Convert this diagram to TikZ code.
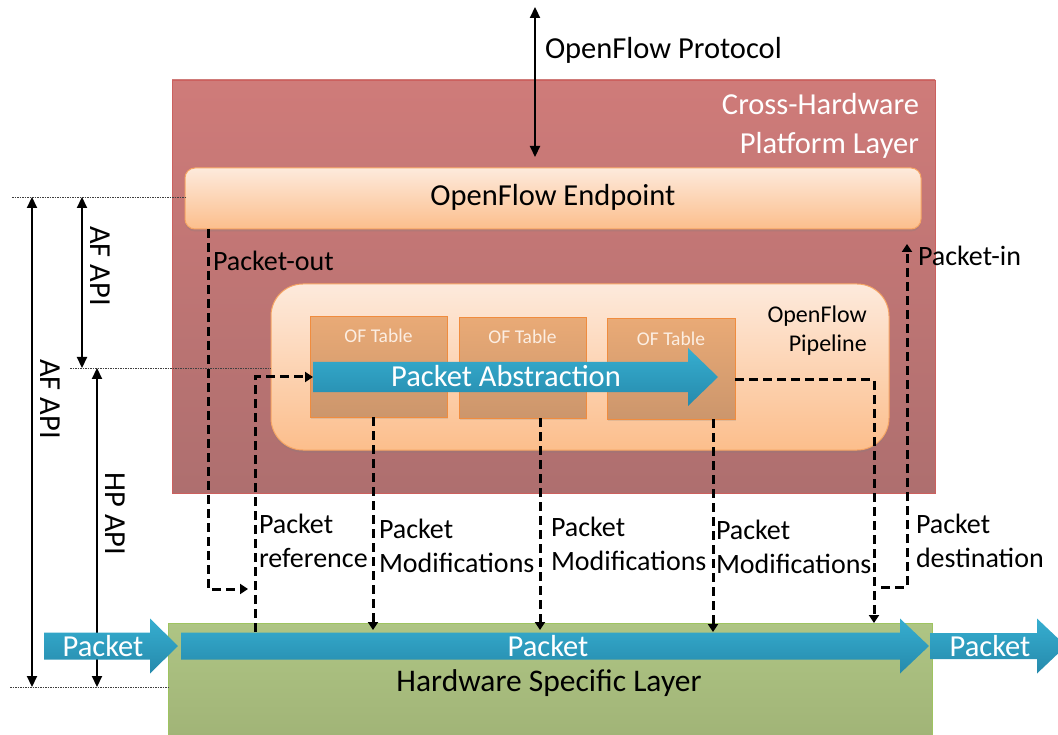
\documentclass[tikz,border=0pt]{standalone}
\usepackage{fontspec}
\setmainfont{Carlito}
\usetikzlibrary{arrows.meta,shadows}

\definecolor{layerTop}{RGB}{207,123,121}
\definecolor{layerBot}{RGB}{174,111,111}
\definecolor{layerLine}{RGB}{204,96,94}
\definecolor{peachTop}{RGB}{253,234,220}
\definecolor{peachBot}{RGB}{252,190,140}
\definecolor{peachLine}{RGB}{246,165,100}
\definecolor{tabTop}{RGB}{233,170,118}
\definecolor{tabBot}{RGB}{204,150,108}
\definecolor{tabLine}{RGB}{240,140,62}
\definecolor{tabText}{RGB}{252,238,226}
\definecolor{pktTop}{RGB}{54,174,208}
\definecolor{pktBot}{RGB}{38,138,172}
\definecolor{hwTop}{RGB}{174,197,132}
\definecolor{hwBot}{RGB}{158,176,116}
\definecolor{hwLine}{RGB}{158,196,96}

% block arrow: style, tail x, head base x, tip x, centre y, half shaft, half head
\newcommand\fatarrow[7]{%
  \path[#1] (#2,#5-#6) -- (#3,#5-#6) -- (#3,#5-#7) -- (#4,#5)
    -- (#3,#5+#7) -- (#3,#5+#6) -- (#2,#5+#6) -- cycle;}

\tikzset{
  box/.style={anchor=north west, inner sep=0pt, outer sep=0pt},
  layer/.style={box, draw=layerLine, line width=0.8pt, top color=layerTop, bottom color=layerBot},
  hwlayer/.style={box, draw=hwLine, line width=0.8pt, top color=hwTop, bottom color=hwBot},
  peach/.style={box, draw=peachLine, line width=1pt, top color=peachTop, bottom color=peachBot,
    rounded corners=#1, drop shadow={opacity=0.25, shadow xshift=0pt, shadow yshift=-2.5pt}},
  oftable/.style={box, draw=tabLine, line width=1pt, top color=tabTop, bottom color=tabBot,
    drop shadow={opacity=0.2, shadow xshift=1pt, shadow yshift=-2pt}},
  pktfill/.style={top color=pktTop, bottom color=pktBot},
  txt/.style={inner sep=0pt, outer sep=0pt, align=left, font=\fontsize{28}{33.5}\selectfont},
  bigtxt/.style={inner sep=0pt, outer sep=0pt, font=\fontsize{30.5}{39}\selectfont},
  tabtxt/.style={inner sep=0pt, outer sep=0pt, text=tabText, font=\fontsize{19.5}{22}\selectfont},
  flow/.style={line width=3pt, dash pattern=on 9pt off 5pt, -{Triangle[length=8pt,width=10pt]}},
  dimline/.style={line width=2.2pt, {Triangle[length=11pt,width=10pt]}-{Triangle[length=11pt,width=10pt]}},
  guide/.style={line width=0.6pt, dash pattern=on 1.5pt off 1pt, black!75},
}

\begin{document}
\begin{tikzpicture}[x=1pt,y=-1pt]
\useasboundingbox (0,0) rectangle (1058,735);

% ---- layers ----
\node[layer, minimum width=763pt, minimum height=413pt] (xhw) at (172,80) {};
\node[hwlayer, minimum width=764pt, minimum height=140pt] (hw) at (168,623) {};

% multi-line labels are anchored at the baseline of their last line
\node[bigtxt, text=white, align=right, anchor=base east] (xhwlbl) at (919,154)
  {Cross-Hardware\\Platform Layer};

% ---- endpoint and pipeline ----
\node[peach=10pt, minimum width=736pt, minimum height=61pt] (ep) at (185,168) {};
\node[bigtxt, anchor=base] (eplbl) at (553,206) {OpenFlow Endpoint};

\node[peach=32pt, minimum width=618pt, minimum height=166pt] (pl) at (271,284) {};
\node[inner sep=0pt, align=right, anchor=base east, font=\fontsize{24}{29}\selectfont] (pllbl)
  at (867,352) {OpenFlow\\Pipeline};

\node[oftable, minimum width=137pt, minimum height=100pt] (t1) at (310,317) {};
\node[oftable, minimum width=127pt, minimum height=100pt] (t2) at (459,318) {};
\node[oftable, minimum width=128pt, minimum height=100pt] (t3) at (607,319) {};
\path (t1.north) ++(0,26) node[tabtxt, anchor=base] (t1lbl) {OF Table};
\path (t2.north) ++(0,26) node[tabtxt, anchor=base] (t2lbl) {OF Table};
\path (t3.north) ++(0,27) node[tabtxt, anchor=base] (t3lbl) {OF Table};

% ---- packet abstraction ----
\fatarrow{pktfill}{313}{688}{718}{377}{15}{29}
\coordinate (paTail) at (313,377);
\node[bigtxt, text=white, anchor=base] (pa) at (506,387) {Packet Abstraction};

% ---- OpenFlow protocol ----
\coordinate (ctrl) at (535,7);
\coordinate (ctrlEnd) at (535,157);
\draw[dimline] (ctrl) -- (ctrlEnd);
\node[bigtxt, anchor=base west] (ofp) at (545,59) {OpenFlow Protocol};

% ---- API extents ----
\coordinate (gTop) at (12,197);
\coordinate (gMid) at (70,368);
\coordinate (gBot) at (10,687);
\draw[guide] (gTop) -- (gTop -| ep.west);
\draw[guide] (gMid) -- (gMid -| pl.west);
\draw[guide] (gBot) -- (gBot -| hw.west);

\coordinate (afA) at (32,197);
\coordinate (afB) at (32,687);
\coordinate (afC) at (82,197);
\coordinate (afD) at (82,368);
\coordinate (hpA) at (97,368);
\coordinate (hpB) at (97,687);
\draw[dimline] (afA) -- (afB);
\draw[dimline] (afC) -- (afD);
\draw[dimline] (hpA) -- (hpB);
\node[bigtxt, rotate=-90] (afall) at (50,399) {AF API};
\node[bigtxt, rotate=-90] (afup) at (100,266) {AF API};
\node[bigtxt, rotate=-90] (hpapi) at (115,514) {HP API};

% ---- packet stream ----
\fatarrow{pktfill}{44}{150}{178}{646}{13.5}{27.5}
\fatarrow{pktfill}{181}{900}{929}{646}{13.5}{27.5}
\fatarrow{pktfill}{930}{1037}{1066}{646}{13}{27.5}
\node[bigtxt, text=white, anchor=base] (pkin) at (103,656) {Packet};
\node[bigtxt, text=white, anchor=base] (pk) at (548,656) {Packet};
\node[bigtxt, text=white, anchor=base] (pkout) at (990,656) {Packet};
\node[inner sep=0pt, anchor=base, font=\fontsize{31.5}{39}\selectfont] (hwlbl) at (549,691)
  {Hardware Specific Layer};

% ---- flows ----
\coordinate (outTurn) at (208,589);
\coordinate (refFoot) at (255,632);
\draw[flow] (ep.south -| outTurn) -- (outTurn) -- ([xshift=-7pt]refFoot |- outTurn);
\draw[flow] (refFoot) |- (paTail);

\coordinate (m1) at (373,630);
\coordinate (m2) at (540,630);
\coordinate (m3) at (713,632);
\draw[flow] (t1.south -| m1) -- (m1);
\draw[flow] (t2.south -| m2) -- (m2);
\draw[flow] (t3.south -| m3) -- (m3);

\coordinate (outR) at (735,380);
\coordinate (destDrop) at (874,623);
\draw[flow] (outR) -| (destDrop);

\coordinate (destStart) at (881,587);
\coordinate (inTip) at (907,244);
\draw[flow] (destStart) -| (inTip);

% ---- flow labels ----
\node[txt, anchor=base west] (outlbl) at (213,271) {Packet-out};
\node[txt, anchor=base west] (inlbl) at (918,266) {Packet-in};
\node[txt, anchor=base west] (reflbl) at (259,567) {Packet\\reference};
\node[txt, anchor=base west] (mod1) at (379,572) {Packet\\Modifications};
\node[txt, anchor=base west] (mod2) at (551,570) {Packet\\Modifications};
\node[txt, anchor=base west] (mod3) at (716,573) {Packet\\Modifications};
\node[txt, anchor=base west] (dstlbl) at (916,567) {Packet\\destination};
\end{tikzpicture}
\end{document}
